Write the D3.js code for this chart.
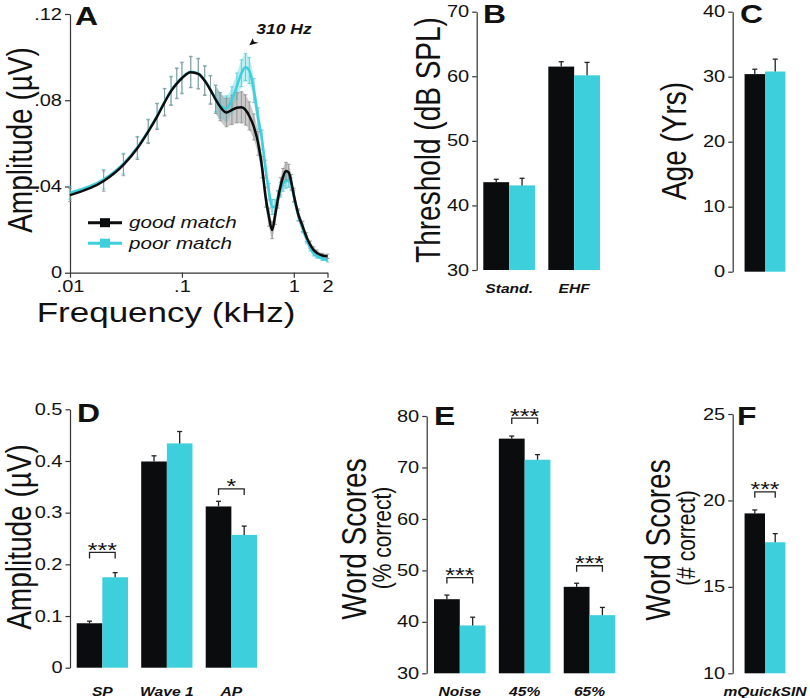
<!DOCTYPE html>
<html><head><meta charset="utf-8">
<script src="https://cdn.jsdelivr.net/npm/d3@7"></script>
<style>
body{margin:0;background:#fff;}
svg{display:block;font-family:"Liberation Sans",Arial,Helvetica,sans-serif;}
</style></head><body>
<svg id="chart" width="810" height="698"></svg>
<script>
// ---------- DATA ----------
// Panel A: spectrum (kHz, µV)
const freqKHz = [0.01,0.02,0.03,0.04,0.05,0.06,0.07,0.08,0.09,0.10,0.12,0.14,0.16,0.18,0.20,0.22,0.25,0.28,0.31,0.34,0.37,0.40,0.44,0.48,0.52,0.56,0.60,0.64,0.68,0.72,0.76,0.80,0.85,0.90,0.95,1.0,1.1,1.2,1.3,1.4,1.5,1.6,1.8,2.0];
const goodMean = [.0360,.0425,.0500,.0577,.0654,.0724,.0790,.0842,.0877,.0902,.0930,.0922,.0890,.0847,.0804,.0770,.0743,.0755,.0765,.0767,.0755,.0727,.0676,.0600,.0490,.0350,.0258,.0198,.0264,.0340,.0400,.0443,.0472,.0465,.0420,.0360,.0268,.0215,.0165,.0130,.0106,.0093,.0080,.0076];
const goodSem  = [.0030,.0047,.0050,.0052,.0055,.0060,.0063,.0066,.0070,.0072,.0072,.0070,.0068,.0066,.0065,.0065,.0066,.0068,.0070,.0072,.0070,.0065,.0060,.0055,.0050,.0046,.0042,.0040,.0040,.0040,.0040,.0040,.0040,.0038,.0035,.0032,.0028,.0024,.0020,.0017,.0014,.0012,.0010,.0010];
const poorMean = [.0371,.0433,.0506,.0582,.0658,.0728,.0793,.0845,.0880,.0905,.0932,.0925,.0893,.0850,.0808,.0776,.0762,.0804,.0866,.0925,.0953,.0937,.0845,.0715,.0616,.0480,.0375,.0305,.0305,.0345,.0385,.0412,.0425,.0428,.0410,.0355,.0265,.0205,.0155,.0115,.0090,.0078,.0066,.0058];
const poorSem  = [.0030,.0045,.0048,.0050,.0054,.0058,.0062,.0066,.0070,.0072,.0072,.0070,.0067,.0064,.0062,.0060,.0058,.0058,.0060,.0062,.0063,.0060,.0055,.0050,.0046,.0042,.0038,.0035,.0034,.0034,.0034,.0034,.0033,.0032,.0030,.0028,.0024,.0020,.0017,.0014,.0012,.0010,.0009,.0008];
const seriesNames = ["good match","poor match"];
const freqTicks = [0.01,0.1,1,2];
const freqTickLabels = [".01",".1","1","2"];
const ampTicks = [0,0.04,0.08,0.12];
const ampTickLabels = ["0",".04",".08",".12"];
const annotText = "310 Hz";
const annotPoint = [0.40,0.1055];

// Panel B: thresholds
const thrCats = ["Stand.","EHF"];
const thrGood = [43.6,61.5], thrGoodErr = [0.45,0.75];
const thrPoor = [43.1,60.15], thrPoorErr = [1.1,2.0];
const thrTicks = [30,40,50,60,70];

// Panel C: age
const ageCats = [""];
const ageGood = [30.4], ageGoodErr = [0.75];
const agePoor = [30.8], agePoorErr = [1.9];
const ageTicks = [0,10,20,30,40];

// Panel D: ECochG amplitudes
const ampCats = ["SP","Wave 1","AP"];
const ampGood = [0.086,0.399,0.312], ampGoodErr = [0.004,0.011,0.010];
const ampPoor = [0.175,0.434,0.257], ampPoorErr = [0.009,0.023,0.017];
const ampSig = ["***","","*"], ampSigLevel = [0.223,null,0.346];
const ampBarTicks = [0,0.1,0.2,0.3,0.4,0.5];
const ampBarTickLabels = ["0","0.1","0.2","0.3","0.4","0.5"];

// Panel E: word scores
const wsCats = ["Noise","45%","65%"];
const wsGood = [44.4,75.6,46.8], wsGoodErr = [0.8,0.5,0.7];
const wsPoor = [39.3,71.5,41.3], wsPoorErr = [1.6,1.0,1.5];
const wsSig = ["***","***","***"], wsSigLevel = [48.6,79.6,50.9];
const wsTicks = [30,40,50,60,70,80];

// Panel F: mQuickSIN
const qsCats = ["mQuickSIN"];
const qsGood = [19.25], qsGoodErr = [0.2];
const qsPoor = [17.58], qsPoorErr = [0.5];
const qsSig = ["***"], qsSigLevel = [20.5];
const qsTicks = [10,15,20,25];

// ---------- STYLE ----------
const BLACK = "#0b0c0e", CYAN = "#3ecfdc", GREY = "#8a8a8a", AXIS = "#333";
const SX = 1.25; // horizontal text stretch of the original figure
const svg = d3.select("#chart");

function stretch(sel){
  sel.each(function(){
    const t = d3.select(this);
    const x = +t.attr("x")||0, y = +t.attr("y")||0;
    t.attr("transform", `translate(${x},${y}) scale(${SX},1) translate(${-x},${-y})`);
  });
}
function vtitle(g, text, cx, cy, size){
  g.append("text").attr("transform",`translate(${cx},${cy}) scale(${SX},1) rotate(-90)`)
   .attr("text-anchor","middle").attr("font-size",size).attr("fill","#111").text(text);
}
function letter(g, L, x, y){
  const t = g.append("text").attr("x",x).attr("y",y).attr("font-size",25.5).attr("font-weight","bold").attr("fill","#111").text(L);
  stretch(t);
}
function styleAxis(ax){
  ax.select(".domain").attr("stroke",AXIS).attr("stroke-width",1.2);
  ax.selectAll(".tick line").attr("stroke",AXIS).attr("stroke-width",1.2);
  ax.selectAll(".tick text").attr("font-size",16).attr("fill","#111").attr("font-family",null);
  ax.attr("font-family",null);
  stretch(ax.selectAll(".tick text"));
}

// ---------- PANEL A ----------
(function(){
  const g = svg.append("g");
  const x = d3.scaleLog().domain([0.01,2]).range([70,327.5]);
  const y = d3.scaleLinear().domain([0,0.12]).range([272.7,14]);
  const ya = g.append("g").attr("transform","translate(70,0)")
    .call(d3.axisLeft(y).tickValues(ampTicks).tickFormat((d,i)=>ampTickLabels[i]).tickSize(5).tickSizeOuter(0).tickPadding(3));
  styleAxis(ya);
  const xa = g.append("g").attr("transform","translate(0,272.7)")
    .call(d3.axisBottom(x).tickValues(freqTicks).tickFormat((d,i)=>freqTickLabels[i]).tickSize(5).tickSizeOuter(0).tickPadding(3));
  styleAxis(xa);

  const rows = freqKHz.map((f,i)=>({f, gm:goodMean[i], gs:goodSem[i], pm:poorMean[i], ps:poorSem[i]}));
  const dense = rows.filter(d=>d.f>=0.2);
  const area = (m,s)=>d3.area().x(d=>x(d.f)).y0(d=>y(d[m]-d[s])).y1(d=>y(d[m]+d[s])).curve(d3.curveMonotoneX);
  g.append("path").datum(dense).attr("d",area("pm","ps")).attr("fill",CYAN).attr("fill-opacity",0.35);
  g.append("path").datum(dense).attr("d",area("gm","gs")).attr("fill",GREY).attr("fill-opacity",0.45);

  function errBars(m,s,col){
    const eb = g.append("g").attr("stroke",col).attr("stroke-width",1).attr("stroke-opacity",0.85);
    rows.forEach(d=>{
      const cx = x(d.f), y0 = y(d[m]-d[s]), y1 = y(d[m]+d[s]);
      eb.append("line").attr("x1",cx).attr("x2",cx).attr("y1",y0).attr("y2",y1);
      eb.append("line").attr("x1",cx-1.8).attr("x2",cx+1.8).attr("y1",y0).attr("y2",y0);
      eb.append("line").attr("x1",cx-1.8).attr("x2",cx+1.8).attr("y1",y1).attr("y2",y1);
    });
  }
  errBars("pm","ps","#52c9d4");
  errBars("gm","gs","#8f8f8f");

  const line = m=>d3.line().x(d=>x(d.f)).y(d=>y(d[m])).curve(d3.curveMonotoneX);
  g.append("path").datum(rows).attr("d",line("pm")).attr("fill","none").attr("stroke",CYAN).attr("stroke-width",2.5);
  g.append("path").datum(rows).attr("d",line("gm")).attr("fill","none").attr("stroke",BLACK).attr("stroke-width",2.5);

  // legend
  [BLACK,CYAN].forEach((c,i)=>{
    const ly = 222.7 + i*20.5;
    g.append("line").attr("x1",88).attr("x2",122).attr("y1",ly).attr("y2",ly).attr("stroke",c).attr("stroke-width",3);
    g.append("rect").attr("x",100).attr("y",ly-4.5).attr("width",10).attr("height",9).attr("fill",c);
    const t = g.append("text").attr("x",129).attr("y",ly+5.5).attr("font-size",16.5).attr("font-style","italic").attr("fill","#111").text(seriesNames[i]);
    stretch(t);
  });

  // annotation
  const ax = x(annotPoint[0]), ay = y(annotPoint[1]);
  g.append("path").attr("d",`M${ax},${ay} L${ax+3.5},${ay-7} L${ax+4.6},${ay-3.6} L${ax+9.5},${ay-2.6} Z`).attr("fill","#111");
  const at = g.append("text").attr("x",ax+7).attr("y",ay-11).attr("font-size",14).attr("font-weight","bold").attr("font-style","italic").attr("fill","#111").text(annotText);
  stretch(at);

  vtitle(g,"Amplitude (\u00b5V)",32,140,28);
  const xt = g.append("text").attr("x",166).attr("y",322).attr("text-anchor","middle").attr("font-size",28).attr("fill","#111").text("Frequency (kHz)");
  stretch(xt);
  letter(g,"A",75,25);
})();

// ---------- BAR PANELS ----------
function barPanel(o){
  const g = svg.append("g");
  const y = d3.scaleLinear().domain(o.domain).range([o.yBottom,o.yTop]);
  const xb = d3.scaleBand().domain(o.cats).range([o.x0,o.x1]).paddingInner(0.205).paddingOuter(0);
  const xs = d3.scaleBand().domain([0,1]).range([0,xb.bandwidth()]);
  const ya = g.append("g").attr("transform",`translate(${o.axisX},0)`)
    .call(d3.axisLeft(y).tickValues(o.ticks).tickFormat((d,i)=>o.tickLabels?o.tickLabels[i]:d).tickSize(4.5).tickSizeOuter(0).tickPadding(3));
  styleAxis(ya);
  const series = [[o.good,o.goodErr,BLACK],[o.poor,o.poorErr,CYAN]];
  o.cats.forEach((c,i)=>{
    series.forEach((s,k)=>{
      const bx = xb(c)+xs(k), w = xs.bandwidth(), v = s[0][i], e = s[1][i];
      g.append("rect").attr("x",bx).attr("y",y(v)).attr("width",w).attr("height",y(o.domain[0])-y(v)).attr("fill",s[2]);
      const cx = bx + w/2;
      g.append("line").attr("x1",cx).attr("x2",cx).attr("y1",y(v)).attr("y2",y(v+e)).attr("stroke","#222").attr("stroke-width",1.3);
      g.append("line").attr("x1",cx-2.5).attr("x2",cx+2.5).attr("y1",y(v+e)).attr("y2",y(v+e)).attr("stroke","#222").attr("stroke-width",1.3);
    });
    if(o.sig && o.sig[i]){
      const ly = y(o.sigLevel[i]);
      const c0 = xb(c)+xs(0)+xs.bandwidth()/2, c1 = xb(c)+xs(1)+xs.bandwidth()/2;
      g.append("path").attr("d",`M${c0},${ly+6} V${ly} H${c1} V${ly+6}`).attr("fill","none").attr("stroke","#222").attr("stroke-width",1.3);
      const t = g.append("text").attr("x",(c0+c1)/2).attr("y",ly+4.5).attr("text-anchor","middle").attr("font-size",20).attr("fill","#111").text(o.sig[i]);
      stretch(t);
    }
    if(c){
      const t = g.append("text").attr("x",xb(c)+xb.bandwidth()/2).attr("y",o.labelY).attr("text-anchor","middle")
        .attr("font-size",12.5).attr("font-weight","bold").attr("font-style","italic").attr("fill","#111").text(c);
      stretch(t);
    }
  });
  o.titles.forEach(t=>vtitle(g,t[0],t[1],t[2],t[3]));
  letter(g,o.letter,o.lx,o.ly);
}

barPanel({cats:thrCats,good:thrGood,goodErr:thrGoodErr,poor:thrPoor,poorErr:thrPoorErr,domain:[30,70],ticks:thrTicks,
  axisX:476.7,yTop:11.7,yBottom:270,x0:483.3,x1:600,labelY:293,letter:"B",lx:483,ly:23.5,
  titles:[["Threshold (dB SPL)",440,140,28]]});
barPanel({cats:ageCats,good:ageGood,goodErr:ageGoodErr,poor:agePoor,poorErr:agePoorErr,domain:[0,40],ticks:ageTicks,
  axisX:732.7,yTop:11.7,yBottom:271.7,x0:739.3,x1:790.7,labelY:293,letter:"C",lx:740,ly:23.5,
  titles:[["Age (Yrs)",686,141,28]]});
barPanel({cats:ampCats,good:ampGood,goodErr:ampGoodErr,poor:ampPoor,poorErr:ampPoorErr,domain:[0,0.5],ticks:ampBarTicks,tickLabels:ampBarTickLabels,
  sig:ampSig,sigLevel:ampSigLevel,
  axisX:70,yTop:409.3,yBottom:667.7,x0:76.7,x1:257,labelY:696,letter:"D",lx:77,ly:422,
  titles:[["Amplitude (\u00b5V)",31,537,28]]});
barPanel({cats:wsCats,good:wsGood,goodErr:wsGoodErr,poor:wsPoor,poorErr:wsPoorErr,domain:[30,80],ticks:wsTicks,
  sig:wsSig,sigLevel:wsSigLevel,
  axisX:426.7,yTop:416,yBottom:673.3,x0:434,x1:615.3,labelY:696,letter:"E",lx:434,ly:425,
  titles:[["Word Scores",366,539,28],["(% correct)",391,538,21]]});
barPanel({cats:qsCats,good:qsGood,goodErr:qsGoodErr,poor:qsPoor,poorErr:qsPoorErr,domain:[10,25],ticks:qsTicks,
  sig:qsSig,sigLevel:qsSigLevel,
  axisX:732.7,yTop:414,yBottom:673.3,x0:739.3,x1:790.7,labelY:696,letter:"F",lx:737,ly:425,
  titles:[["Word Scores",670,540,28],["(# correct)",695,538,21]]});
</script>
</body></html>
